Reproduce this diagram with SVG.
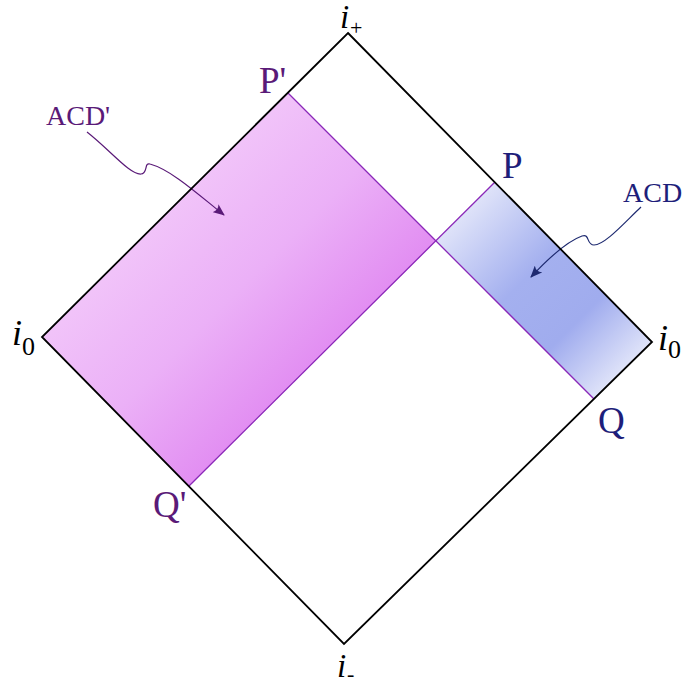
<svg xmlns="http://www.w3.org/2000/svg" width="689" height="687" viewBox="0 0 689 687">
  <style>
    .edge { fill: none; stroke: #000; stroke-width: 1.8; stroke-linejoin: miter; }
    .null { fill: none; stroke: #8a28b8; stroke-width: 1.3; }
    .lbl { font-family: "Liberation Serif", "DejaVu Serif", serif; }
    .math { font-family: "Liberation Serif", "DejaVu Serif", serif; font-style: italic; font-size: 36px; fill: #000; }
    .mathsm { font-size: 33px; }
    .sub { font-style: normal; font-size: 26px; }
    .subsm { font-style: normal; font-size: 22px; }
    .big { font-size: 37px; }
    .small { font-size: 28px; }
    .purple { fill: #5a1a78; }
    .navy { fill: #1e1e7a; }
  </style>
  <defs>
    <linearGradient id="gPink" gradientUnits="userSpaceOnUse" x1="190" y1="190" x2="338" y2="338">
      <stop offset="0" stop-color="#f1c3f9"/>
      <stop offset="0.5" stop-color="#ebb0f7"/>
      <stop offset="1" stop-color="#e28ef2"/>
    </linearGradient>
    <linearGradient id="gBlue" gradientUnits="userSpaceOnUse" x1="338" y1="338" x2="497" y2="497">
      <stop offset="0" stop-color="#dfe3f9"/>
      <stop offset="0.4" stop-color="#a4b0ef"/>
      <stop offset="0.7" stop-color="#a0acee"/>
      <stop offset="1" stop-color="#dfe3f9"/>
    </linearGradient>
    <marker id="arrP" viewBox="0 0 12 10" refX="11" refY="5" markerWidth="12" markerHeight="10" markerUnits="userSpaceOnUse" orient="auto">
      <path d="M0,0 Q4,5 0,10 L12,5 Z" fill="#5a1a78"/>
    </marker>
    <marker id="arrN" viewBox="0 0 12 10" refX="11" refY="5" markerWidth="12" markerHeight="10" markerUnits="userSpaceOnUse" orient="auto">
      <path d="M0,0 Q4,5 0,10 L12,5 Z" fill="#1e2a70"/>
    </marker>
  </defs>

  <g id="region-acd-prime">
    <polygon points="288,93 436,241 189,486 42,337" fill="url(#gPink)"/>
  </g>
  <g id="region-acd">
    <polygon points="495,182 652,342 594,399 436,241" fill="url(#gBlue)"/>
  </g>

  <g id="connectors">
    <line class="null" x1="288" y1="93" x2="594" y2="399"/>
    <line class="null" x1="189" y1="486" x2="495" y2="182"/>
    <path d="M87,132 C110,150 130,175 141,174 C148,174 144,162 150,164 C172,170 200,196 224,215" fill="none" stroke="#5a1a78" stroke-width="1.2" marker-end="url(#arrP)"/>
    <path d="M641,207 C625,222 605,245 594,245 C586,245 590,233 582,236 C565,242 545,262 531,277" fill="none" stroke="#1e2a70" stroke-width="1.2" marker-end="url(#arrN)"/>
  </g>

  <g id="diamond">
    <polygon class="edge" points="348,33 652,342 344,644 42,337"/>
  </g>

  <g id="label-iplus"><text class="math mathsm" x="340" y="28">i<tspan class="subsm" x="350" y="35">+</tspan></text></g>
  <g id="label-i0-left"><text class="math" x="12" y="345">i<tspan class="sub" x="22" y="355">0</tspan></text></g>
  <g id="label-i0-right"><text class="math" x="658" y="350">i<tspan class="sub" x="668" y="358">0</tspan></text></g>
  <g id="label-iminus"><text class="math mathsm" x="337" y="677">i<tspan class="subsm" x="347" y="681">-</tspan></text></g>

  <g id="label-Pprime"><text class="lbl big purple" x="259" y="93">P'</text></g>
  <g id="label-P"><text class="lbl big navy" x="502" y="178">P</text></g>
  <g id="label-Q"><text class="lbl big navy" x="598" y="433">Q</text></g>
  <g id="label-Qprime"><text class="lbl big purple" x="153" y="517">Q'</text></g>
  <g id="label-ACDprime"><text class="lbl small purple" x="46" y="125">ACD'</text></g>
  <g id="label-ACD"><text class="lbl small navy" x="623" y="202">ACD</text></g>
</svg>
